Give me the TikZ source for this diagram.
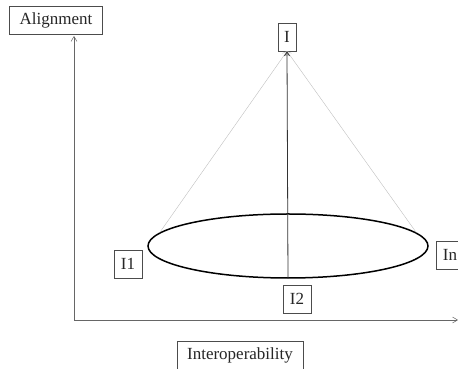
\documentclass[tikz,border=0pt]{standalone}
\usepackage{fontspec}
\setmainfont{Liberation Serif}
\usetikzlibrary{arrows.meta,shapes.geometric}

\begin{document}
\begin{tikzpicture}[x=1pt,y=1pt,
	lab/.style={draw=black!70,fill=white,font=\fontsize{17}{20}\selectfont,text=black!85,
		minimum height=28pt,inner xsep=7pt,inner ysep=2pt},
	axe/.style={draw=black!60,line width=0.5pt,-{Straight Barb[length=5pt,width=6pt]}},
	fil/.style={draw=black!25,line width=0.4pt,-{Straight Barb[length=4pt,width=5pt]}}]
	\useasboundingbox (0,0) rectangle (458,369);
	% axes
	\coordinate (O) at (74,49);
	\coordinate (Ytop) at (74,333);
	\coordinate (Xend) at (458,49);
	\draw[axe] (O)--(Ytop);
	\draw[axe] (O)--(Xend);
	\node[lab,inner xsep=10pt] (Al) at (56,349) {Alignment};
	\node[lab,inner xsep=10pt] (Int) at (240,14) {Interoperability};
	% cone
	\node[draw,ellipse,line width=1.5pt,minimum width=280pt,minimum height=64pt] (E) at (288,123) {};
	\node[lab,inner xsep=6pt] (I) at (287,332) {I};
	\draw[fil] (E.174)--(I.south);
	\draw[fil] (E.6)--(I.south);
	\draw[draw=black!80,line width=0.8pt,-{Straight Barb[length=4pt,width=5pt]}] (E.south)--(I.south);
	\node[lab] (I1) at (128,105) {I1};
	\node[lab] (I2) at (297,70) {I2};
	\node[lab] (In) at (450,114) {In};
\end{tikzpicture}
\end{document}
